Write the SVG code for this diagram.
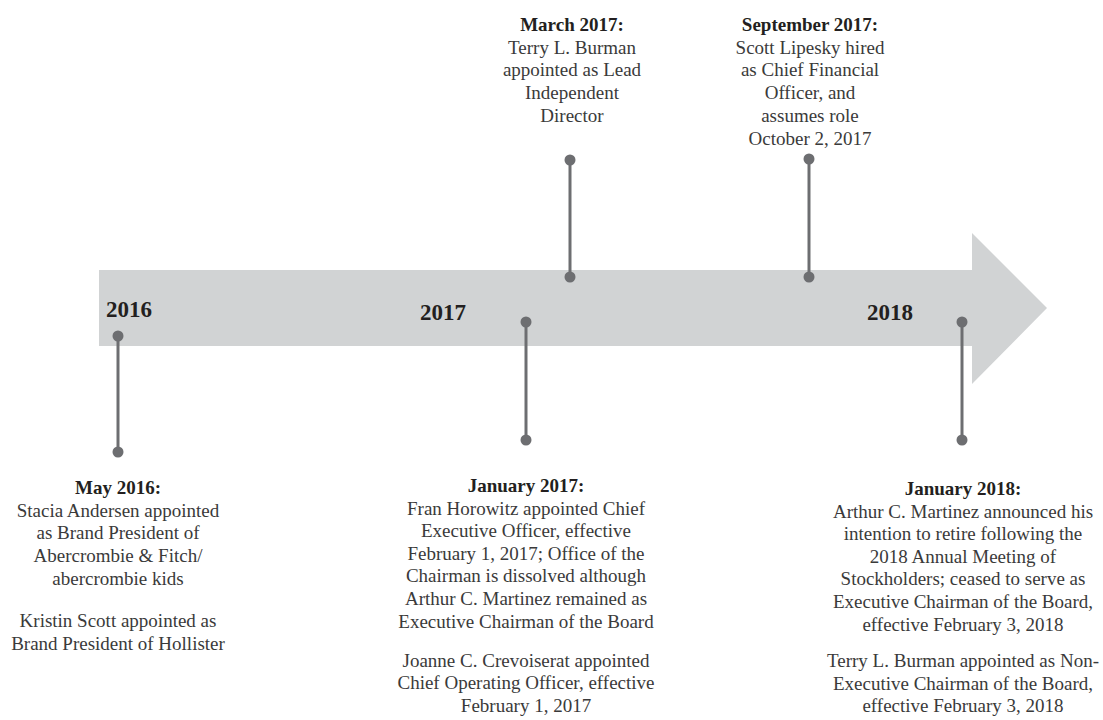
<svg xmlns="http://www.w3.org/2000/svg" width="1103" height="720" viewBox="0 0 1103 720">
<style>
.t{font-family:"Liberation Serif","Times New Roman",serif;font-size:19px;fill:#3a3a3a;text-anchor:middle}
.h{font-weight:bold;fill:#231f20}
.y{font-family:"Liberation Serif","Times New Roman",serif;font-size:23px;font-weight:bold;fill:#231f20}
.pin{stroke:#6d6e71;stroke-width:3;fill:none}
.dot{fill:#6d6e71}
</style>
<rect width="1103" height="720" fill="#ffffff"/>
<g id="timeline">
<polygon points="99,270 972,270 972,233 1047,308 972,384 972,346 99,346" fill="#d1d3d4"/>
<text class="y" x="106" y="317">2016</text>
<text class="y" x="420" y="320">2017</text>
<text class="y" x="867" y="320">2018</text>
</g>
<g id="connectors">
<line class="pin" x1="118" y1="336" x2="118" y2="452"/>
<circle class="dot" cx="118" cy="336" r="5.5"/><circle class="dot" cx="118" cy="452" r="5.5"/>
<line class="pin" x1="526" y1="322" x2="526" y2="440"/>
<circle class="dot" cx="526" cy="322" r="5.5"/><circle class="dot" cx="526" cy="440" r="5.5"/>
<line class="pin" x1="570" y1="160" x2="570" y2="277"/>
<circle class="dot" cx="570" cy="160" r="5.5"/><circle class="dot" cx="570" cy="277" r="5.5"/>
<line class="pin" x1="809" y1="159" x2="809" y2="277"/>
<circle class="dot" cx="809" cy="159" r="5.5"/><circle class="dot" cx="809" cy="277" r="5.5"/>
<line class="pin" x1="962" y1="322" x2="962" y2="440"/>
<circle class="dot" cx="962" cy="322" r="5.5"/><circle class="dot" cx="962" cy="440" r="5.5"/>
</g>
<g id="may2016">
<text class="t" x="118" y="494"><tspan class="h">May 2016:</tspan><tspan x="118" dy="22.7">Stacia Andersen appointed</tspan><tspan x="118" dy="22.7">as Brand President of</tspan><tspan x="118" dy="22.7">Abercrombie &amp; Fitch/</tspan><tspan x="118" dy="22.7">abercrombie kids</tspan><tspan x="118" dy="42">Kristin Scott appointed as</tspan><tspan x="118" dy="22.7">Brand President of Hollister</tspan></text>
</g>
<g id="mar2017">
<text class="t" x="572" y="31"><tspan class="h">March 2017:</tspan><tspan x="572" dy="22.7">Terry L. Burman</tspan><tspan x="572" dy="22.7">appointed as Lead</tspan><tspan x="572" dy="22.7">Independent</tspan><tspan x="572" dy="22.7">Director</tspan></text>
</g>
<g id="sep2017">
<text class="t" x="810" y="31"><tspan class="h">September 2017:</tspan><tspan x="810" dy="22.7">Scott Lipesky hired</tspan><tspan x="810" dy="22.7">as Chief Financial</tspan><tspan x="810" dy="22.7">Officer, and</tspan><tspan x="810" dy="22.7">assumes role</tspan><tspan x="810" dy="22.7">October 2, 2017</tspan></text>
</g>
<g id="jan2017">
<text class="t" x="526" y="492"><tspan class="h">January 2017:</tspan><tspan x="526" dy="22.6">Fran Horowitz appointed Chief</tspan><tspan x="526" dy="22.6">Executive Officer, effective</tspan><tspan x="526" dy="22.6">February 1, 2017; Office of the</tspan><tspan x="526" dy="22.6">Chairman is dissolved although</tspan><tspan x="526" dy="22.6">Arthur C. Martinez remained as</tspan><tspan x="526" dy="22.6">Executive Chairman of the Board</tspan><tspan x="526" dy="39">Joanne C. Crevoiserat appointed</tspan><tspan x="526" dy="22.6">Chief Operating Officer, effective</tspan><tspan x="526" dy="22.6">February 1, 2017</tspan></text>
</g>
<g id="jan2018">
<text class="t" x="963" y="495"><tspan class="h">January 2018:</tspan><tspan x="963" dy="22.6">Arthur C. Martinez announced his</tspan><tspan x="963" dy="22.6">intention to retire following the</tspan><tspan x="963" dy="22.6">2018 Annual Meeting of</tspan><tspan x="963" dy="22.6">Stockholders; ceased to serve as</tspan><tspan x="963" dy="22.6">Executive Chairman of the Board,</tspan><tspan x="963" dy="22.6">effective February 3, 2018</tspan><tspan x="963" dy="36.5">Terry L. Burman appointed as Non-</tspan><tspan x="963" dy="22.6">Executive Chairman of the  Board,</tspan><tspan x="963" dy="22.6">effective February 3, 2018</tspan></text>
</g>
</svg>
